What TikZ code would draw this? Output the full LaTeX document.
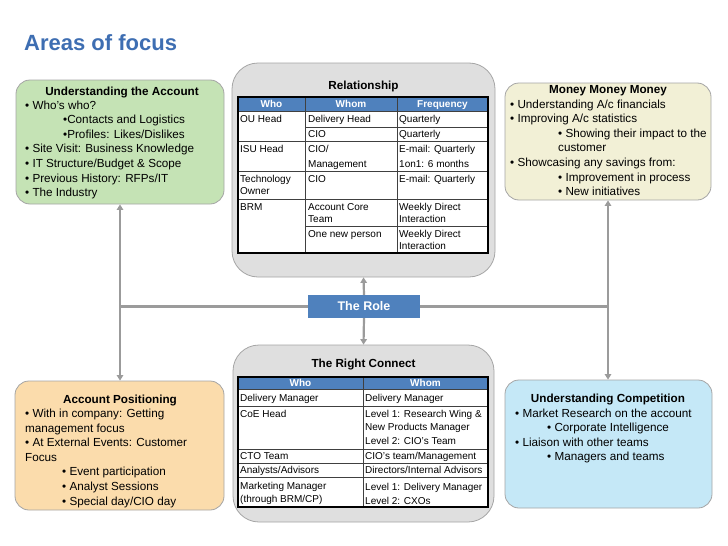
\documentclass[tikz,border=0pt]{standalone}
\usepackage{fontspec}
\setmainfont{Liberation Sans}
\usetikzlibrary{arrows.meta}

\definecolor{titleblue}{RGB}{62,110,178}
\definecolor{headblue}{RGB}{79,129,189}
\definecolor{acctgreen}{RGB}{197,227,181}
\definecolor{moneycream}{RGB}{242,240,214}
\definecolor{posorange}{RGB}{251,220,172}
\definecolor{compblue}{RGB}{197,232,247}
\definecolor{panelgray}{RGB}{223,223,223}
\definecolor{edgegray}{RGB}{165,165,165}
\definecolor{linkgray}{RGB}{155,155,155}

\tikzset{
  focusbox/.style={draw=edgegray, line width=0.8pt, rounded corners=14pt, inner sep=0pt},
  panelbox/.style={draw=edgegray, line width=0.8pt, rounded corners=26pt, fill=panelgray, inner sep=0pt},
  headtext/.style={anchor=base, inner sep=0pt, font=\fontsize{11.7}{14}\selectfont\bfseries},
  bodytext/.style={anchor=base west, inner sep=0pt, align=left, font=\fontsize{11.7}{14.6}\selectfont},
  celltext/.style={anchor=base west, inner sep=0pt, align=left, font=\fontsize{10}{12.5}\selectfont},
  colhead/.style={anchor=base, inner sep=0pt, text=white, font=\fontsize{10}{12}\selectfont\bfseries},
  gridline/.style={draw=black!75, line width=0.7pt},
  tableframe/.style={draw=black, line width=2pt},
  link/.style={draw=linkgray, line width=2.2pt},
  linktip/.style={arrows={-Triangle[width=6.5pt,length=5.5pt]}},
  twoway/.style={arrows={Triangle[width=6.5pt,length=5.5pt]-Triangle[width=6.5pt,length=5.5pt]}}
}

\begin{document}
\begin{tikzpicture}[x=1pt, y=-1pt]
  \useasboundingbox (0,0) rectangle (728,546);

  \node[anchor=base west, inner sep=0pt, text=titleblue, font=\fontsize{22}{26}\selectfont\bfseries] (title) at (24,50) {Areas of focus};

  \node[focusbox, fill=acctgreen, minimum width=208, minimum height=124] (acct) at (120,142) {};
  \node[panelbox, minimum width=263, minimum height=214] (rel) at (363.5,170) {};
  \node[focusbox, fill=moneycream, minimum width=206, minimum height=117] (money) at (608,141.5) {};
  \node[focusbox, fill=posorange, minimum width=209, minimum height=129] (pos) at (119.5,445.5) {};
  \node[panelbox, minimum width=261, minimum height=177] (conn) at (363.5,433.5) {};
  \node[focusbox, fill=compblue, minimum width=207, minimum height=128] (comp) at (608.5,444) {};
  \node[fill=headblue, text=white, minimum width=112, minimum height=23, inner sep=0pt, font=\fontsize{12.5}{14}\selectfont\bfseries] (role) at (364,306.5) {The Role};

  \draw[link] (role.west) -- (acct.south |- role.west);
  \draw[link] (role.east) -- (money.south |- role.east);
  \draw[link, twoway] (acct.south) -- (acct.south |- pos.north);
  \draw[link, twoway] (money.south) -- (money.south |- comp.north);
  \draw[link, linktip] (role.north) -- (rel.south);
  \draw[link, linktip] (role.south) -- (conn.north);

  \node[headtext] (acctHead) at (122,95) {Understanding the Account};
  \node[bodytext] (acctList) at (25,196.6) {• Who's who?\\
    \hspace*{38pt}•Contacts and Logistics\\
    \hspace*{38pt}•Profiles: Likes/Dislikes\\
    • Site Visit: Business Knowledge\\
    • IT Structure/Budget \& Scope\\
    • Previous History: RFPs/IT\\
    • The Industry};

  \node[headtext] (moneyHead) at (608,93) {Money Money Money};
  \node[bodytext] (moneyList) at (510,195.6) {• Understanding A/c financials\\
    • Improving A/c statistics\\
    \hspace*{48pt}• Showing their impact to the\\
    \hspace*{48pt}customer\\
    • Showcasing any savings from:\\
    \hspace*{48pt}• Improvement in process\\
    \hspace*{48pt}• New initiatives};

  \node[headtext] (posHead) at (120,403) {Account Positioning};
  \node[bodytext] (posList) at (25,505.1) {• With in company: Getting\\
    management focus\\
    • At External Events: Customer\\
    Focus\\
    \hspace*{37pt}• Event participation\\
    \hspace*{37pt}• Analyst Sessions\\
    \hspace*{37pt}• Special day/CIO day};

  \node[headtext] (compHead) at (608,402) {Understanding Competition};
  \node[bodytext] (compList) at (515,460.8) {• Market Research on the account\\
    \hspace*{32pt}• Corporate Intelligence\\
    • Liaison with other teams\\
    \hspace*{32pt}• Managers and teams};

  \node[headtext] (relHead) at (363.5,89) {Relationship};
  \fill[white] (238,97) rectangle (488,253);
  \fill[headblue] (238,97) rectangle (488,111);
  \draw[gridline] (305,97) -- (305,253);
  \draw[gridline] (397,97) -- (397,253);
  \draw[gridline] (238,111) -- (488,111);
  \draw[gridline] (305,127) -- (488,127);
  \draw[gridline] (238,141) -- (488,141);
  \draw[gridline] (238,171) -- (488,171);
  \draw[gridline] (238,199) -- (488,199);
  \draw[gridline] (305,226) -- (488,226);
  \draw[tableframe] (238,97) rectangle (488,253);
  \node[colhead] (relWho) at (271.5,107.5) {Who};
  \node[colhead] (relWhom) at (351,107.5) {Whom};
  \node[colhead] (relFreq) at (442.5,107.5) {Frequency};
  \node[celltext] (ouWho) at (240,122) {OU Head};
  \node[celltext] (ouWhomA) at (308,122) {Delivery Head};
  \node[celltext] (ouFreqA) at (399,122) {Quarterly};
  \node[celltext] (ouWhomB) at (308,137.5) {CIO};
  \node[celltext] (ouFreqB) at (399,137.5) {Quarterly};
  \node[celltext] (isuWho) at (240,152) {ISU Head};
  \node[celltext] (isuWhom) at (308,167) {CIO/\\[2.5pt]Management};
  \node[celltext] (isuFreq) at (399,167) {E-mail: Quarterly\\[2.5pt]1on1: 6 months};
  \node[celltext] (techWho) at (240,194.5) {Technology\\Owner};
  \node[celltext] (techWhom) at (308,182) {CIO};
  \node[celltext] (techFreq) at (399,182) {E-mail: Quarterly};
  \node[celltext] (brmWho) at (240,210) {BRM};
  \node[celltext] (brmWhomA) at (308,222.5) {Account Core\\Team};
  \node[celltext] (brmFreqA) at (399,222.5) {Weekly Direct\\Interaction};
  \node[celltext] (brmWhomB) at (308,237) {One new person};
  \node[celltext] (brmFreqB) at (399,249.5) {Weekly Direct\\Interaction};

  \node[headtext] (connHead) at (363.5,367) {The Right Connect};
  \fill[white] (238,377) rectangle (488,507);
  \fill[headblue] (238,377) rectangle (488,389);
  \draw[gridline] (363,377) -- (363,507);
  \draw[gridline] (238,389) -- (488,389);
  \draw[gridline] (238,406) -- (488,406);
  \draw[gridline] (238,449) -- (488,449);
  \draw[gridline] (238,463) -- (488,463);
  \draw[gridline] (238,477) -- (488,477);
  \draw[tableframe] (238,377) rectangle (488,507);
  \node[colhead] (connWho) at (300.5,386.5) {Who};
  \node[colhead] (connWhom) at (425.5,386.5) {Whom};
  \node[celltext] (dmWho) at (240,401.5) {Delivery Manager};
  \node[celltext] (dmWhom) at (365,401.5) {Delivery Manager};
  \node[celltext] (coeWho) at (240,417.5) {CoE Head};
  \node[celltext] (coeWhom) at (365,444.5) {Level 1: Research Wing \&\\New Products Manager\\[2pt]Level 2: CIO's Team};
  \node[celltext] (ctoWho) at (240,459.5) {CTO Team};
  \node[celltext] (ctoWhom) at (365,459.5) {CIO's team/Management};
  \node[celltext] (anWho) at (240,473.5) {Analysts/Advisors};
  \node[celltext] (anWhom) at (365,473.5) {Directors/Internal Advisors};
  \node[celltext] (mkWho) at (240,502) {Marketing Manager\\(through BRM/CP)};
  \node[celltext] (mkWhom) at (365,504.5) {Level 1: Delivery Manager\\[2pt]Level 2: CXOs};
\end{tikzpicture}
\end{document}
